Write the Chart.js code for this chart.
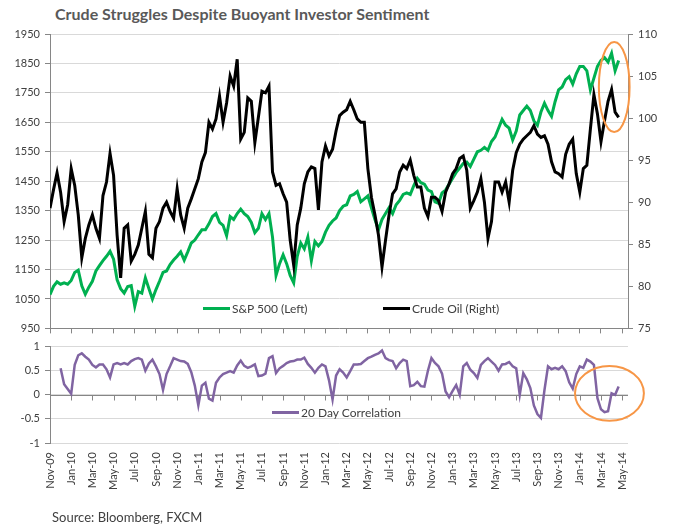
<!DOCTYPE html>
<html>
<head>
<meta charset="utf-8">
<script src="https://cdn.jsdelivr.net/npm/chart.js@4.4.0/dist/chart.umd.min.js"></script>
<style>
  body { margin: 0; background: #fff; }
  #wrap { position: relative; width: 680px; height: 530px; font-family: Lato, "Open Sans", sans-serif; }
  #topChart { position: absolute; left: 0; top: 0; }
  #bottomChart { position: absolute; left: 0; top: 335px; }
  .title { position: absolute; left: 55px; top: 4px; font-weight: bold; font-size: 16px; color: #595959; white-space: nowrap; }
  .legend-item { position: absolute; font-size: 12px; color: #404040; white-space: nowrap; line-height: 14px; }
  .legend-item .swatch { display: inline-block; width: 27px; height: 3px; vertical-align: middle; margin-right: 2px; position: relative; top: -1px; }
  .source { position: absolute; left: 52px; top: 509px; font-size: 13px; color: #404040; white-space: nowrap; }
</style>
</head>
<body>
<div id="wrap">
  <div class="title">Crude Struggles Despite Buoyant Investor Sentiment</div>
  <canvas id="topChart" width="680" height="340"></canvas>
  <canvas id="bottomChart" width="680" height="195"></canvas>
  <div class="source">Source: Bloomberg, FXCM</div>
</div>
<script>
// x axis: months since Nov 2009, one sample every third of a month
const samplesPerMonth = 3;

// tick labels every two months
const tickLabels = [
  'Nov-09', 'Jan-10', 'Mar-10', 'May-10', 'Jul-10', 'Sep-10', 'Nov-10',
  'Jan-11', 'Mar-11', 'May-11', 'Jul-11', 'Sep-11', 'Nov-11',
  'Jan-12', 'Mar-12', 'May-12', 'Jul-12', 'Sep-12', 'Nov-12',
  'Jan-13', 'Mar-13', 'May-13', 'Jul-13', 'Sep-13', 'Nov-13',
  'Jan-14', 'Mar-14', 'May-14'
];

// S&P 500 (left axis)
const spx = [
  1065, 1093, 1108, 1100, 1105, 1100, 1113, 1140, 1148, 1095,
  1066, 1090, 1110, 1145, 1163, 1180, 1195, 1212, 1185, 1115,
  1085, 1070, 1092, 1095, 1025, 1075, 1070, 1122, 1085, 1050,
  1082, 1110, 1140, 1145, 1167, 1182, 1195, 1210, 1182, 1210,
  1240, 1250, 1268, 1285, 1285, 1305, 1330, 1340, 1310, 1300,
  1265, 1330, 1320, 1340, 1355, 1340, 1330, 1310, 1275, 1290,
  1340, 1320, 1340, 1260, 1130, 1170, 1200, 1170, 1130, 1105,
  1195, 1240, 1220, 1260, 1180, 1245, 1230, 1245, 1277, 1300,
  1315, 1325, 1350, 1365, 1370, 1400, 1405, 1415, 1380, 1390,
  1400, 1360, 1320, 1285, 1320, 1340, 1360, 1340, 1370, 1385,
  1405, 1410, 1405, 1435, 1460, 1445, 1440, 1420, 1415, 1380,
  1375, 1410, 1420, 1440, 1460, 1480, 1495, 1510, 1515, 1500,
  1525, 1550, 1555, 1565, 1555, 1585, 1600, 1630, 1660, 1640,
  1630, 1590, 1620, 1675, 1690, 1705, 1690, 1655, 1640, 1685,
  1715, 1690, 1670, 1720, 1760, 1770, 1795, 1805, 1780, 1815,
  1840, 1840, 1825, 1760, 1800, 1840, 1860, 1870, 1855, 1885,
  1825, 1860
];

// Crude oil (right axis)
const crude = [
  89.3, 91.5, 93.5, 91.2, 87.7, 89.7, 94.0, 92.0, 88.5, 83.4,
  85.7, 87.3, 88.5, 86.9, 85.7, 90.8, 92.4, 95.8, 93.2, 86.1,
  81.0, 86.9, 87.3, 83.0, 83.8, 84.9, 86.9, 88.9, 83.8, 83.4,
  86.9, 87.7, 89.3, 90.0, 88.9, 88.1, 91.6, 88.5, 86.9, 89.3,
  90.4, 91.6, 92.8, 94.8, 95.9, 99.5, 98.7, 99.9, 102.6, 99.5,
  101.8, 105.0, 103.8, 107.0, 97.5, 98.3, 102.4, 102.0, 97.1, 100.1,
  103.2, 103.0, 103.8, 93.6, 92.0, 92.2, 91.0, 90.0, 85.5, 82.5,
  87.3, 89.3, 92.2, 93.6, 94.2, 94.0, 89.1, 94.8, 96.7, 95.5,
  96.3, 98.5, 100.3, 100.7, 101.0, 102.0, 101.0, 99.9, 99.5, 99.5,
  94.0, 90.6, 88.5, 86.1, 82.3, 85.5, 88.5, 91.0, 91.6, 93.6,
  94.4, 94.0, 95.0, 93.2, 91.8, 91.8, 89.3, 88.3, 90.6, 90.6,
  90.2, 88.9, 91.2, 92.2, 93.4, 94.0, 95.2, 95.5, 93.8, 89.3,
  90.2, 91.2, 92.8, 90.0, 85.7, 87.7, 92.4, 92.4, 91.2, 92.4,
  90.0, 93.8, 95.9, 96.9, 97.5, 97.9, 98.3, 99.1, 98.1, 97.7,
  97.9, 96.9, 94.8, 93.6, 93.4, 93.0, 95.7, 96.9, 97.5, 93.4,
  91.2, 94.0, 94.4, 98.7, 102.8, 100.5, 97.2, 99.7, 102.0, 103.4,
  100.7, 100.1
];

// 20 day correlation (lower panel)
const correlation = [
  null, null, null, 0.55, 0.22, 0.12, 0.02, 0.62, 0.82, 0.86,
  0.79, 0.73, 0.62, 0.57, 0.63, 0.63, 0.53, 0.36, 0.63, 0.66,
  0.63, 0.66, 0.63, 0.70, 0.74, 0.76, 0.73, 0.50, 0.65, 0.73,
  0.59, 0.43, 0.10, 0.43, 0.59, 0.76, 0.73, 0.70, 0.69, 0.64,
  0.47, 0.19, -0.22, 0.19, 0.25, -0.08, -0.12, 0.25, 0.36, 0.43,
  0.46, 0.49, 0.46, 0.61, 0.71, 0.60, 0.56, 0.59, 0.63, 0.39,
  0.40, 0.44, 0.76, 0.80, 0.45, 0.55, 0.60, 0.66, 0.69, 0.70,
  0.73, 0.73, 0.77, 0.64, 0.56, 0.46, 0.56, 0.63, 0.59, 0.30,
  -0.10, 0.40, 0.53, 0.46, 0.36, 0.49, 0.63, 0.63, 0.64, 0.70,
  0.76, 0.79, 0.83, 0.86, 0.92, 0.76, 0.72, 0.70, 0.55, 0.66,
  0.73, 0.70, 0.18, 0.20, 0.27, 0.18, 0.17, 0.50, 0.76, 0.66,
  0.59, 0.44, 0.07, -0.05, 0.08, 0.20, 0.00, 0.59, 0.66, 0.52,
  0.45, 0.35, 0.62, 0.70, 0.76, 0.69, 0.62, 0.50, 0.63, 0.64,
  0.68, 0.59, 0.55, 0.00, 0.45, 0.32, 0.14, -0.22, -0.40, -0.48,
  0.10, 0.59, 0.53, 0.56, 0.53, 0.59, 0.49, 0.26, 0.13, 0.43,
  0.59, 0.56, 0.73, 0.69, 0.62, -0.07, -0.30, -0.36, -0.34, 0.03,
  0.00, 0.17
];

// orange highlight rings, in axis units (month, value)
const topRing = { x: 53.25, y: 1770, rx: 1.45, ry: 153 };
const bottomRing = { x: 52.8, y: 0.03, rx: 3.25, ry: 0.57 };

const axisGray = '#868686';
const gridGray = '#d9d9d9';
const labelColor = '#404040';
const tickFont = { family: 'Lato', size: 11 };
const xMax = 54.55;

function toPoints(values) {
  return values.map((v, i) => ({ x: i / samplesPerMonth, y: v }));
}

function setTicks(scale) {
  scale.ticks = tickLabels.map((_, k) => ({ value: k * 2 }));
}

const plainNumber = v => String(Math.round(v * 100) / 100);

function ringPlugin(ring, yId) {
  return {
    id: 'ring',
    afterDraw(chart) {
      const xs = chart.scales.x, ys = chart.scales[yId];
      const cx = xs.getPixelForValue(ring.x);
      const cy = ys.getPixelForValue(ring.y);
      const rx = Math.abs(xs.getPixelForValue(ring.x + ring.rx) - cx);
      const ry = Math.abs(ys.getPixelForValue(ring.y + ring.ry) - cy);
      const ctx = chart.ctx;
      ctx.save();
      ctx.strokeStyle = '#F79646';
      ctx.lineWidth = 2;
      ctx.beginPath();
      ctx.ellipse(cx, cy, rx, ry, 0, 0, Math.PI * 2);
      ctx.stroke();
      ctx.restore();
    }
  };
}

// axis line crossing at zero with outward tick marks
const zeroAxis = {
  id: 'zeroAxis',
  beforeDatasetsDraw(chart) {
    const { ctx, chartArea, scales: { x, y } } = chart;
    const y0 = Math.round(y.getPixelForValue(0)) + 0.5;
    ctx.save();
    ctx.strokeStyle = axisGray;
    ctx.lineWidth = 1;
    ctx.beginPath();
    ctx.moveTo(chartArea.left, y0);
    ctx.lineTo(chartArea.right, y0);
    x.ticks.forEach(t => {
      const px = Math.round(x.getPixelForValue(t.value)) + 0.5;
      ctx.moveTo(px, y0);
      ctx.lineTo(px, y0 + 5);
    });
    ctx.stroke();
    ctx.restore();
  }
};

const topChart = new Chart(document.getElementById('topChart'), {
  type: 'line',
  data: {
    datasets: [
      {
        label: 'S&P 500 (Left)',
        data: toPoints(spx),
        yAxisID: 'yL',
        borderColor: '#00B050',
        borderWidth: 3,
        pointRadius: 0,
        tension: 0,
        order: 2
      },
      {
        label: 'Crude Oil (Right)',
        data: toPoints(crude),
        yAxisID: 'yR',
        borderColor: '#000000',
        borderWidth: 3,
        pointRadius: 0,
        tension: 0,
        order: 1
      }
    ]
  },
  options: {
    responsive: false,
    animation: false,
    layout: { padding: { top: 34, left: 0, right: 0, bottom: 0 } },
    plugins: { legend: { display: false }, tooltip: { enabled: false } },
    scales: {
      x: {
        type: 'linear',
        min: 0,
        max: xMax,
        afterBuildTicks: setTicks,
        ticks: { display: false },
        grid: { drawOnChartArea: false, drawTicks: true, tickLength: 5, tickColor: axisGray },
        border: { color: axisGray },
        afterFit: s => { s.height = 9; }
      },
      yL: {
        position: 'left',
        min: 950,
        max: 1950,
        ticks: { stepSize: 100, color: labelColor, font: tickFont, padding: 5, callback: plainNumber },
        grid: { color: gridGray, tickColor: axisGray, tickLength: 5 },
        border: { color: axisGray },
        afterFit: s => { s.width = 50; }
      },
      yR: {
        position: 'right',
        min: 75,
        max: 110,
        ticks: { stepSize: 5, color: labelColor, font: tickFont, padding: 5, callback: plainNumber },
        grid: { drawOnChartArea: false, tickColor: axisGray, tickLength: 5 },
        border: { color: axisGray },
        afterFit: s => { s.width = 52; }
      }
    }
  },
  plugins: [ringPlugin(topRing, 'yL')]
});

const bottomChart = new Chart(document.getElementById('bottomChart'), {
  type: 'line',
  data: {
    datasets: [{
      label: '20 Day Correlation',
      data: toPoints(correlation),
      borderColor: '#8064A2',
      borderWidth: 2.5,
      pointRadius: 0,
      tension: 0,
      spanGaps: false
    }]
  },
  options: {
    responsive: false,
    animation: false,
    layout: { padding: { top: 8, left: 0, right: 52, bottom: 0 } },
    plugins: { legend: { display: false }, tooltip: { enabled: false } },
    scales: {
      x: {
        type: 'linear',
        min: 0,
        max: xMax,
        afterBuildTicks: setTicks,
        ticks: {
          autoSkip: false,
          minRotation: 90,
          maxRotation: 90,
          padding: 9,
          color: labelColor,
          font: tickFont,
          callback: v => tickLabels[Math.round(v / 2)]
        },
        grid: { display: false, drawTicks: false },
        border: { display: false },
        afterFit: s => { s.height = 87; }
      },
      y: {
        min: -1,
        max: 1,
        ticks: { stepSize: 0.5, color: labelColor, font: tickFont, padding: 5, callback: plainNumber },
        grid: { color: gridGray, tickColor: axisGray, tickLength: 5 },
        border: { color: axisGray },
        afterFit: s => { s.width = 50; }
      }
    }
  },
  plugins: [zeroAxis, ringPlugin(bottomRing, 'y')]
});

// legends built from the datasets
function addLegend(chart, index, left, top, offsetTop) {
  const ds = chart.data.datasets[index];
  const item = document.createElement('div');
  item.className = 'legend-item';
  item.style.left = left + 'px';
  item.style.top = (offsetTop + top) + 'px';
  const sw = document.createElement('span');
  sw.className = 'swatch';
  sw.style.background = ds.borderColor;
  item.appendChild(sw);
  item.appendChild(document.createTextNode(ds.label));
  document.getElementById('wrap').appendChild(item);
}
addLegend(topChart, 0, 203, 302, 0);
addLegend(topChart, 1, 383, 302, 0);
addLegend(bottomChart, 0, 272, 71, 335);
</script>
</body>
</html>
